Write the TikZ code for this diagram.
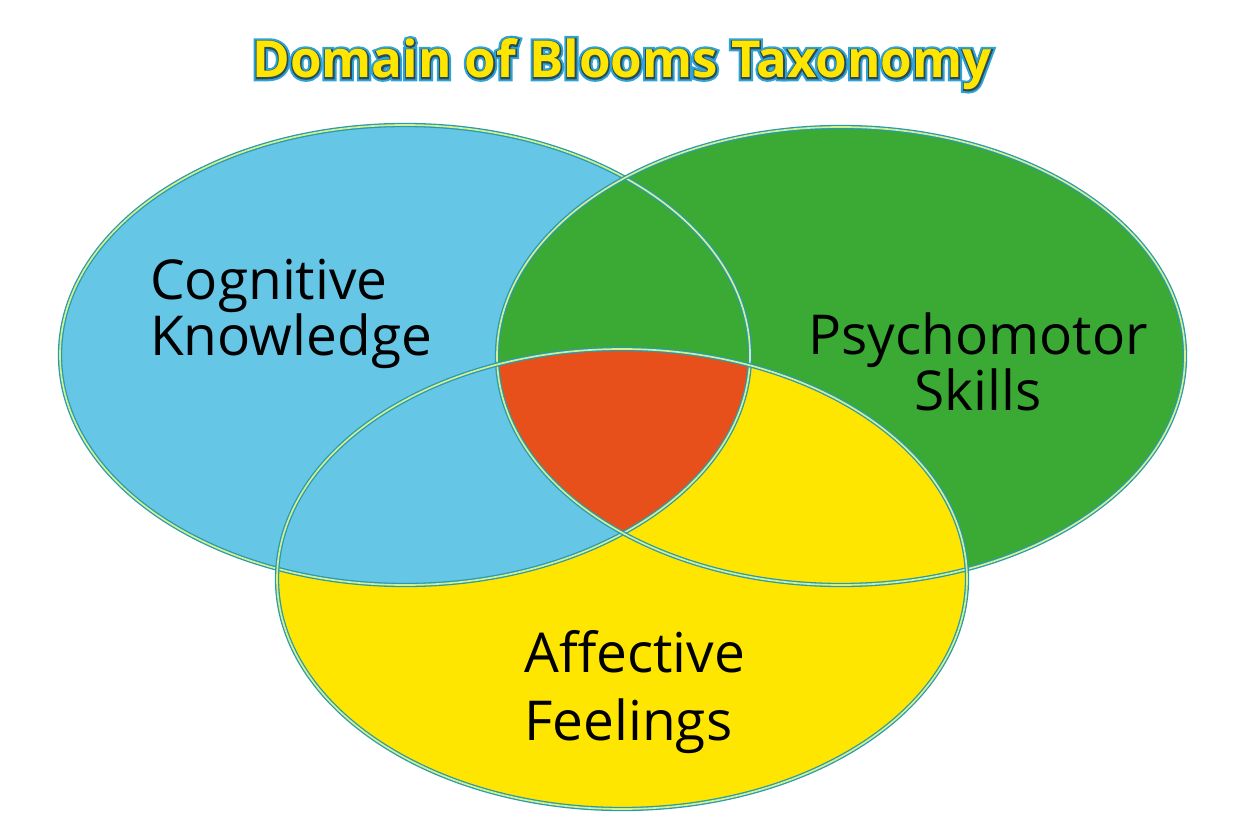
\documentclass[tikz,border=0pt]{standalone}
\usepackage{fontspec}
\setmainfont{Open Sans}
\newfontfamily\glowfont[BoldFeatures={FakeBold=13}]{Open Sans}
\newfontfamily\inkfont[BoldFeatures={FakeBold=5}]{Open Sans}
\definecolor{cogblue}{HTML}{66C6E6}
\definecolor{psygreen}{HTML}{3BAA35}
\definecolor{affyellow}{HTML}{FFE600}
\definecolor{corered}{HTML}{E8501B}
\definecolor{rimteal}{HTML}{2A9AB0}
\definecolor{rimlight}{HTML}{D2F08C}
\definecolor{titleglow}{HTML}{2FA3D6}
\definecolor{titleink}{HTML}{2A4A55}

\begin{document}
\begin{tikzpicture}[x=1pt, y=-1pt,
	rim/.style={draw=rimteal, line width=1.3pt, double=rimlight, double distance=1.7pt},
	lbl/.style={font=\fontsize{55}{50}\selectfont, text=black, inner sep=0pt},
	ttl/.style={inner sep=0pt, anchor=base}]
	\useasboundingbox (0,0) rectangle (1250,834);
	\def\cogE{(405,355) ellipse [x radius=345pt, y radius=230pt]}
	\def\psyE{(841,356) ellipse [x radius=344pt, y radius=229pt]}
	\def\affE{(622,579) ellipse [x radius=345pt, y radius=230pt]}
	% the three domains
	\fill[affyellow] \affE;
	\fill[cogblue] \cogE;
	\fill[psygreen] \psyE;
	\begin{scope}
	  \clip \psyE;
	  \fill[affyellow] \affE;
	  \clip \cogE;
	  \fill[corered] \affE;
	\end{scope}
	\draw[rim] \cogE;
	\draw[rim] \psyE;
	\draw[rim] \affE;
	% title, drawn three times for the outline
	\node[ttl, text=titleglow, font=\fontsize{51}{60}\glowfont\bfseries] (glow) at (622,78) {Domain of Blooms Taxonomy};
	\node[ttl, text=titleink, font=\fontsize{51}{60}\inkfont\bfseries] (ink) at (622,78) {Domain of Blooms Taxonomy};
	\node[ttl, text=affyellow, font=\fontsize{51}{60}\selectfont\bfseries] (title) at (622,78) {Domain of Blooms Taxonomy};
	% labels
	\node[lbl, align=left, anchor=base west] (cog) at (150,355) {Cognitive\\Knowledge};
	\node[lbl, align=center, anchor=base] (psy) at (978,410) {Psychomotor\\Skills};
	\node[lbl, align=left, anchor=base west, font=\fontsize{55}{68}\selectfont] (aff) at (524,740) {Affective\\Feelings};
\end{tikzpicture}
\end{document}
